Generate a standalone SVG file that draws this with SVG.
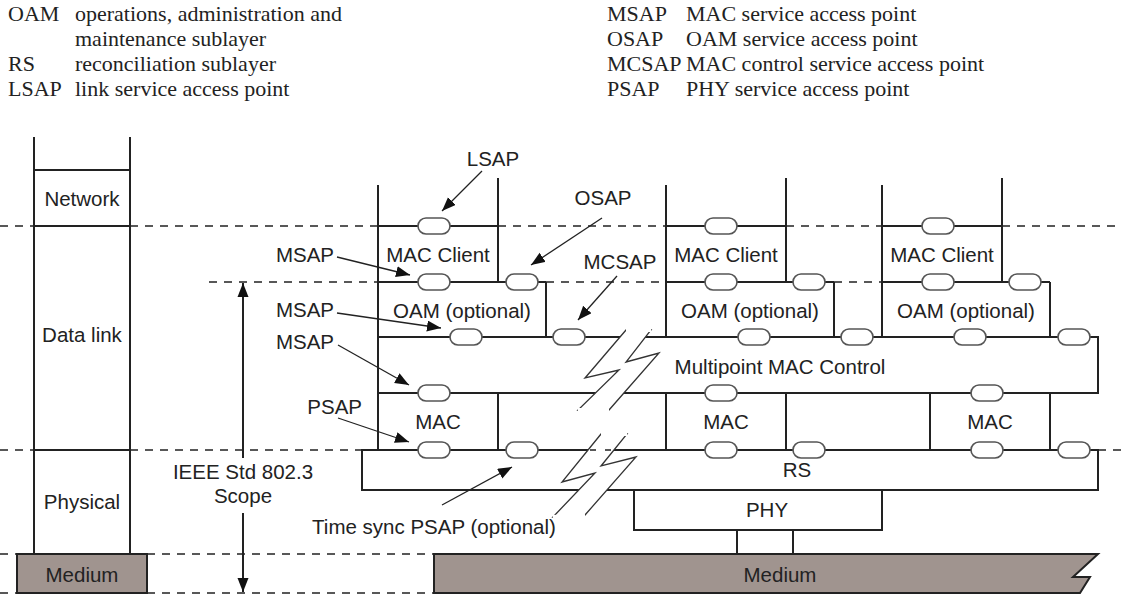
<svg xmlns="http://www.w3.org/2000/svg" width="1126" height="596" viewBox="0 0 1126 596">
<style>
.hd{font-family:"Liberation Serif","Times New Roman",serif;font-size:22px;fill:#222}
.t{font-family:"Liberation Sans",Arial,sans-serif;font-size:20.5px;fill:#222}
.c{text-anchor:middle}
.r{text-anchor:end}
.ln{stroke:#222;stroke-width:2;fill:none}
.bx{stroke:#222;stroke-width:2;fill:none}
.ds{stroke:#222;stroke-width:1.6;stroke-dasharray:8 7;fill:none}
.ov{fill:#fff;stroke:#555;stroke-width:1.6}
.ld{stroke:#222;stroke-width:1.3;fill:none;marker-end:url(#ah)}
.med{fill:#a0948f;stroke:#222;stroke-width:2}
.brk{fill:#fff;stroke:#333;stroke-width:1.3}
</style>
<defs>
<marker id="ah" markerUnits="userSpaceOnUse" markerWidth="15" markerHeight="12" refX="14" refY="5.5" orient="auto">
<path d="M0,0 L14,5.5 L0,11 z" fill="#111"/>
</marker>
<marker id="ahs" markerUnits="userSpaceOnUse" markerWidth="15" markerHeight="12" refX="0" refY="5.5" orient="auto">
<path d="M14,0 L0,5.5 L14,11 z" fill="#111"/>
</marker>
</defs>
<rect width="1126" height="596" fill="#fff"/>

<g id="legend">
<text class="hd" x="8" y="21">OAM</text><text class="hd" x="75" y="21">operations, administration and</text>
<text class="hd" x="75" y="46">maintenance sublayer</text>
<text class="hd" x="8" y="71">RS</text><text class="hd" x="75" y="71">reconciliation sublayer</text>
<text class="hd" x="8" y="96">LSAP</text><text class="hd" x="75" y="96">link service access point</text>
<text class="hd" x="607" y="21">MSAP</text><text class="hd" x="686" y="21">MAC service access point</text>
<text class="hd" x="607" y="46">OSAP</text><text class="hd" x="686" y="46">OAM service access point</text>
<text class="hd" x="607" y="71">MCSAP</text><text class="hd" x="686" y="71">MAC control service access point</text>
<text class="hd" x="607" y="96">PSAP</text><text class="hd" x="686" y="96">PHY service access point</text>
</g>

<g id="layer-boundaries">
<path class="ds" d="M0,226 H34 M130,226 H378 M498,226 H666 M786,226 H882 M1002,226 H1118"/>
<path class="ds" d="M209,282 H378 M546,282 H666 M834,282 H882"/>
<path class="ds" d="M0,450 H34 M130,450 H362 M1098,450 H1126"/>
<path class="ds" d="M0,554 H17 M147,554 H434 M0,593 H17 M147,593 H434"/>
</g>

<g id="osi-column">
<path class="ln" d="M34,137 V554 M130,137 V554 M34,170 H130 M34,226 H130 M34,450 H130"/>
<text class="t c" x="82" y="206">Network</text>
<text class="t c" x="82" y="342">Data link</text>
<text class="t c" x="82" y="509">Physical</text>
</g>
<g id="medium-left">
<rect class="med" x="17" y="554" width="130" height="39"/>
<text class="t c" x="82" y="582">Medium</text>
</g>

<g id="scope">
<line class="ln" x1="243" y1="283" x2="243" y2="458" marker-start="url(#ahs)" style="stroke-width:2"/>
<line class="ln" x1="243" y1="513" x2="243" y2="592" marker-end="url(#ah)"/>
<text class="t c" x="243" y="479">IEEE Std 802.3</text>
<text class="t c" x="243" y="503">Scope</text>
</g>

<g id="stack1">
<path class="ln" d="M378,185 V450 M498,178 V282 M378,226 H498 M378,282 H546 M546,282 V337"/>
<text class="t c" x="438" y="262">MAC Client</text>
<text class="t c" x="462" y="318">OAM (optional)</text>
<rect class="ov" x="418" y="218" width="32" height="16" rx="8"/>
<rect class="ov" x="418" y="274" width="32" height="16" rx="8"/>
<rect class="ov" x="506" y="274" width="32" height="16" rx="8"/>
</g>
<g id="stack2">
<path class="ln" d="M666,185 V337 M786,178 V282 M666,226 H786 M666,282 H834 M834,282 V337"/>
<text class="t c" x="726" y="262">MAC Client</text>
<text class="t c" x="750" y="318">OAM (optional)</text>
<rect class="ov" x="705" y="218" width="32" height="16" rx="8"/>
<rect class="ov" x="705" y="274" width="32" height="16" rx="8"/>
<rect class="ov" x="793" y="274" width="32" height="16" rx="8"/>
</g>
<g id="stack3">
<path class="ln" d="M882,185 V337 M1002,178 V282 M882,226 H1002 M882,282 H1050 M1050,282 V337"/>
<text class="t c" x="942" y="262">MAC Client</text>
<text class="t c" x="966" y="318">OAM (optional)</text>
<rect class="ov" x="922" y="218" width="32" height="16" rx="8"/>
<rect class="ov" x="922" y="274" width="32" height="16" rx="8"/>
<rect class="ov" x="1009" y="274" width="32" height="16" rx="8"/>
</g>

<g id="mpmc">
<path class="ln" d="M378,337 H1098 V393 H378"/>
<text class="t c" x="780" y="374">Multipoint MAC Control</text>
</g>

<g id="mac">
<path class="ln" d="M498,393 V450 M666,393 V450 M786,393 V450 M930,393 V450 M1050,393 V450"/>
<text class="t c" x="438" y="429">MAC</text>
<text class="t c" x="726" y="429">MAC</text>
<text class="t c" x="990" y="429">MAC</text>
</g>

<g id="rs">
<rect class="bx" x="362" y="450" width="736" height="40"/>
<text class="t c" x="797" y="477">RS</text>
</g>

<g id="phy">
<path class="ln" d="M634,490 V530 H882 V490 M737,530 V554 M793,530 V554"/>
<text class="t c" x="767" y="517">PHY</text>
</g>

<g id="medium-right">
<path class="med" d="M434,554 H1098 L1073,577 H1090 L1080,593 H434 Z"/>
<text class="t c" x="780" y="582">Medium</text>
</g>

<g id="breaks">
<path class="brk" d="M626,330 L585,378 L619,370 L578,410 L609,410 L659,353 L626,362 L651,330 Z"/>
<path class="brk" d="M601,434 L562,482 L595,473 L553,517 L585,515 L636,457 L601,466 L627,434 Z"/>
<path style="stroke:#fff;stroke-width:4" d="M651,330 L626,330 M609,410 L578,410 M627,434 L601,434 M585,515 L553,517"/>
<path class="ds" style="stroke-dasharray:6 9" d="M590,450 H614"/>
</g>

<g id="saps">
<rect class="ov" x="450" y="329" width="32" height="16" rx="8"/>
<rect class="ov" x="553" y="329" width="32" height="16" rx="8"/>
<rect class="ov" x="738" y="329" width="32" height="16" rx="8"/>
<rect class="ov" x="841" y="329" width="32" height="16" rx="8"/>
<rect class="ov" x="954" y="329" width="32" height="16" rx="8"/>
<rect class="ov" x="1058" y="329" width="32" height="16" rx="8"/>
<rect class="ov" x="418" y="385" width="32" height="16" rx="8"/>
<rect class="ov" x="705" y="385" width="32" height="16" rx="8"/>
<rect class="ov" x="971" y="385" width="32" height="16" rx="8"/>
<rect class="ov" x="418" y="442" width="32" height="16" rx="8"/>
<rect class="ov" x="506" y="442" width="32" height="16" rx="8"/>
<rect class="ov" x="705" y="442" width="32" height="16" rx="8"/>
<rect class="ov" x="793" y="442" width="32" height="16" rx="8"/>
<rect class="ov" x="971" y="442" width="32" height="16" rx="8"/>
<rect class="ov" x="1058" y="442" width="32" height="16" rx="8"/>
</g>

<g id="connectors">
<line class="ld" x1="482" y1="171" x2="442" y2="211"/>
<line class="ld" x1="602" y1="218" x2="531" y2="265"/>
<line class="ld" x1="617" y1="276" x2="578" y2="320"/>
<line class="ld" x1="337" y1="257" x2="410" y2="275"/>
<line class="ld" x1="337" y1="313" x2="441" y2="328"/>
<line class="ld" x1="338" y1="345" x2="409" y2="385"/>
<line class="ld" x1="338" y1="418" x2="409" y2="442"/>
<line class="ld" x1="442" y1="505" x2="512" y2="467"/>
</g>

<g id="labels">
<text class="t c" x="493" y="166">LSAP</text>
<text class="t c" x="603" y="205">OSAP</text>
<text class="t c" x="620" y="269">MCSAP</text>
<text class="t r" x="334" y="262">MSAP</text>
<text class="t r" x="334" y="317">MSAP</text>
<text class="t r" x="334" y="349">MSAP</text>
<text class="t r" x="362" y="414">PSAP</text>
<text class="t c" x="434" y="534">Time sync PSAP (optional)</text>
</g>
</svg>
